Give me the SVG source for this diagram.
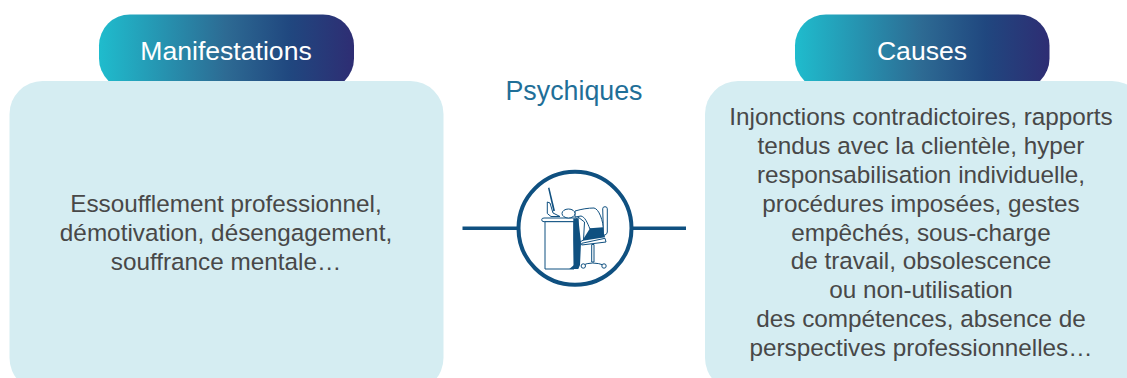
<svg xmlns="http://www.w3.org/2000/svg" width="1127" height="378" viewBox="0 0 1127 378">
<style>
text{font-family:"Liberation Sans",Arial,sans-serif;text-anchor:middle}
.panel{fill:#d5edf2}
.pill{fill:url(#g)}
.head{font-size:26.600px;fill:#fff}
.body{font-size:24.300px;fill:#484848}
.line{stroke:#0f5080;stroke-width:3.6;fill:none}
.thin{stroke:#0f5080;stroke-width:1;fill:#fff}
.dark{fill:#0f5080;stroke:none}
</style>
<defs>
<linearGradient id="g" x1="0" y1="0" x2="1" y2="0">
<stop offset="0" stop-color="#1fbccd"/><stop offset=".5" stop-color="#2d6a93"/><stop offset=".75" stop-color="#20477f"/><stop offset="1" stop-color="#2e2d73"/>
</linearGradient>
</defs>
<rect width="1127" height="378" fill="#fff"/>
<g id="manifestations">
<rect class="pill" x="99" y="14.500" width="255" height="75" rx="31"/>
<rect class="panel" x="9.500" y="81" width="434" height="310" rx="33"/>
<text class="head" x="226" y="60">Manifestations</text>
<text class="body"><tspan x="226" y="212">Essoufflement professionnel,</tspan><tspan x="226" y="241">démotivation, désengagement,</tspan><tspan x="226" y="270">souffrance mentale…</tspan></text>
</g>
<g id="causes">
<rect class="pill" x="795" y="14.500" width="254.500" height="75" rx="31"/>
<rect class="panel" x="705" y="81" width="440" height="310" rx="33"/>
<text class="head" x="922" y="60">Causes</text>
<text class="body"><tspan x="921" y="125">Injonctions contradictoires, rapports</tspan><tspan x="921" y="154">tendus avec la clientèle, hyper</tspan><tspan x="921" y="183">responsabilisation individuelle,</tspan><tspan x="921" y="212">procédures imposées, gestes</tspan><tspan x="921" y="241">empêchés, sous-charge</tspan><tspan x="921" y="269">de travail, obsolescence</tspan><tspan x="921" y="298">ou non-utilisation</tspan><tspan x="921" y="327">des compétences, absence de</tspan><tspan x="921" y="356">perspectives professionnelles…</tspan></text>
</g>
<g id="psychiques">
<text x="574" y="100" font-size="26.800" fill="#1f6f98">Psychiques</text>
</g>
<g id="connectors">
<path class="line" d="M462.500 228.300H518M632 228.300H686"/>
</g>
<g id="icon">
<circle cx="575" cy="228.300" r="56.500" fill="#fff" stroke="#0f5080" stroke-width="4"/>
<path class="thin" d="M547.300 202V213.500L551 216.500H560L553 213L550 203Z"/>
<path class="dark" d="M548 187.900L549.400 187.500L555 210.800L553.300 211.300Z"/>
<path class="thin" d="M541.700 219.800Q541.700 218 544 218H576.700V221.700H544Q541.700 221.700 541.700 219.800Z"/>
<path class="thin" d="M545 221.700H574V269H545Z"/>
<path class="thin" d="M575 211C582 209 588 208 594 208C599 209 603 220 604 232L590 229C587 222 585 217 581 216L575 217Z"/>
<ellipse class="thin" cx="568.500" cy="213.500" rx="6.500" ry="4.500"/>
<path class="thin" d="M578 217L584.500 222L583.500 240L578 243Z"/>
<path class="dark" d="M582.700 240L590 228.300L603 227.300L605 237.300L582.700 240.700Z"/>
<path class="dark" d="M573.300 218.500H578.300L581 243L580 265L578.300 269H569.300L574 265L573.300 240Z"/>
<path class="thin" d="M602.700 208.800Q602.700 206.700 605 206.700Q607.300 206.700 607.300 208.800V232Q607.300 234 605 235H603.500Z"/>
<path class="thin" d="M581.700 243.300L605 238.300L606 242L581.700 245Z"/>
<path class="thin" d="M591.700 244.500H594V262H591.700Z"/>
<path d="M582 265.500Q592 260.500 605 265.500" fill="none" stroke="#0f5080" stroke-width="1"/>
<circle class="thin" cx="583.300" cy="266" r="2.200"/><circle class="thin" cx="604" cy="266" r="2.200"/>
</g>
</svg>
